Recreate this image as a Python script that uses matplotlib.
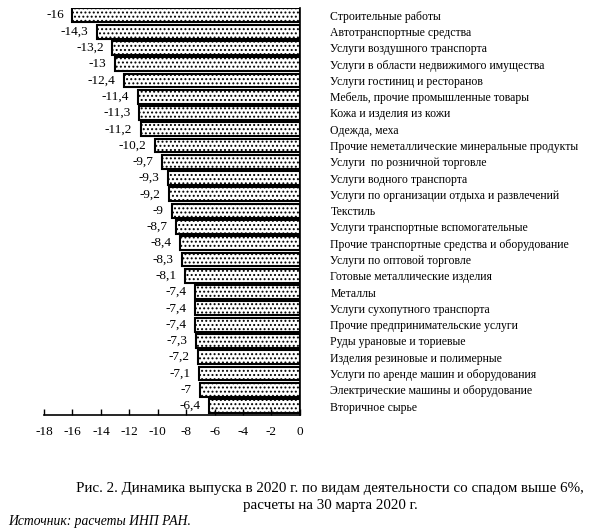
import numpy as np
import matplotlib.pyplot as plt

plt.rcParams['font.family'] = ['Liberation Serif', 'DejaVu Serif']
plt.rcParams['hatch.linewidth'] = 0.9

# Categories and values (top to bottom)
categories = [
    'Строительные работы',
    'Автотранспортные средства',
    'Услуги воздушного транспорта',
    'Услуги в области недвижимого имущества',
    'Услуги гостиниц и ресторанов',
    'Мебель, прочие промышленные товары',
    'Кожа и изделия из кожи',
    'Одежда, меха',
    'Прочие неметаллические минеральные продукты',
    'Услуги  по розничной торговле',
    'Услуги водного транспорта',
    'Услуги по организации отдыха и развлечений',
    'Текстиль',
    'Услуги транспортные вспомогательные',
    'Прочие транспортные средства и оборудование',
    'Услуги по оптовой торговле',
    'Готовые металлические изделия',
    'Металлы',
    'Услуги сухопутного транспорта',
    'Прочие предпринимательские услуги',
    'Руды урановые и ториевые',
    'Изделия резиновые и полимерные',
    'Услуги по аренде машин и оборудования',
    'Электрические машины и оборудование',
    'Вторичное сырье',
]
values = [-16, -14.3, -13.2, -13, -12.4, -11.4, -11.3, -11.2, -10.2, -9.7,
          -9.3, -9.2, -9, -8.7, -8.4, -8.3, -8.1, -7.4, -7.4, -7.4,
          -7.3, -7.2, -7.1, -7, -6.4]
xticks = np.arange(-18, 1, 2)

fig = plt.figure(figsize=(5.95, 5.32), dpi=100)
ax = fig.add_axes([0.074, 0.22, 0.43, 0.765])

y = np.arange(len(values))
ax.barh(y, values, height=0.85, color='white', edgecolor='black',
        linewidth=1.5, hatch='....')

# value labels left of the bars
for yi, v in zip(y, values):
    lab = ('%g' % v).replace('.', ',')
    ax.text(v - 0.6, yi, lab, ha='right', va='center', fontsize=9.5)

ax.set_ylim(len(values) - 0.5 + 0.05, -0.45)
ax.set_xlim(-18, 0)
ax.set_xticks(xticks)
ax.set_xticklabels([str(t) for t in xticks], fontsize=9.5)
ax.tick_params(axis='x', direction='in', length=4, width=1, pad=8)

# category labels right of the axis
ax.set_yticks(y)
ax.set_yticklabels(categories, fontsize=8.5)
ax.yaxis.tick_right()
ax.tick_params(axis='y', length=0, pad=22)
for lab in ax.get_yticklabels():
    lab.set_ha('left')

for s in ['top', 'left']:
    ax.spines[s].set_visible(False)
ax.spines['right'].set_linewidth(1.2)
ax.spines['bottom'].set_linewidth(1.2)

fig.text(0.555, 0.066, 'Рис. 2. Динамика выпуска в 2020 г. по видам деятельности со спадом выше 6%,\nрасчеты на 30 марта 2020 г.',
         ha='center', va='center', fontsize=10.8, linespacing=1.35)
fig.text(0.013, 0.019, 'Источник: расчеты ИНП РАН.', ha='left', va='center',
         fontsize=9.8, style='italic')

fig.savefig('out.png', dpi=100)
